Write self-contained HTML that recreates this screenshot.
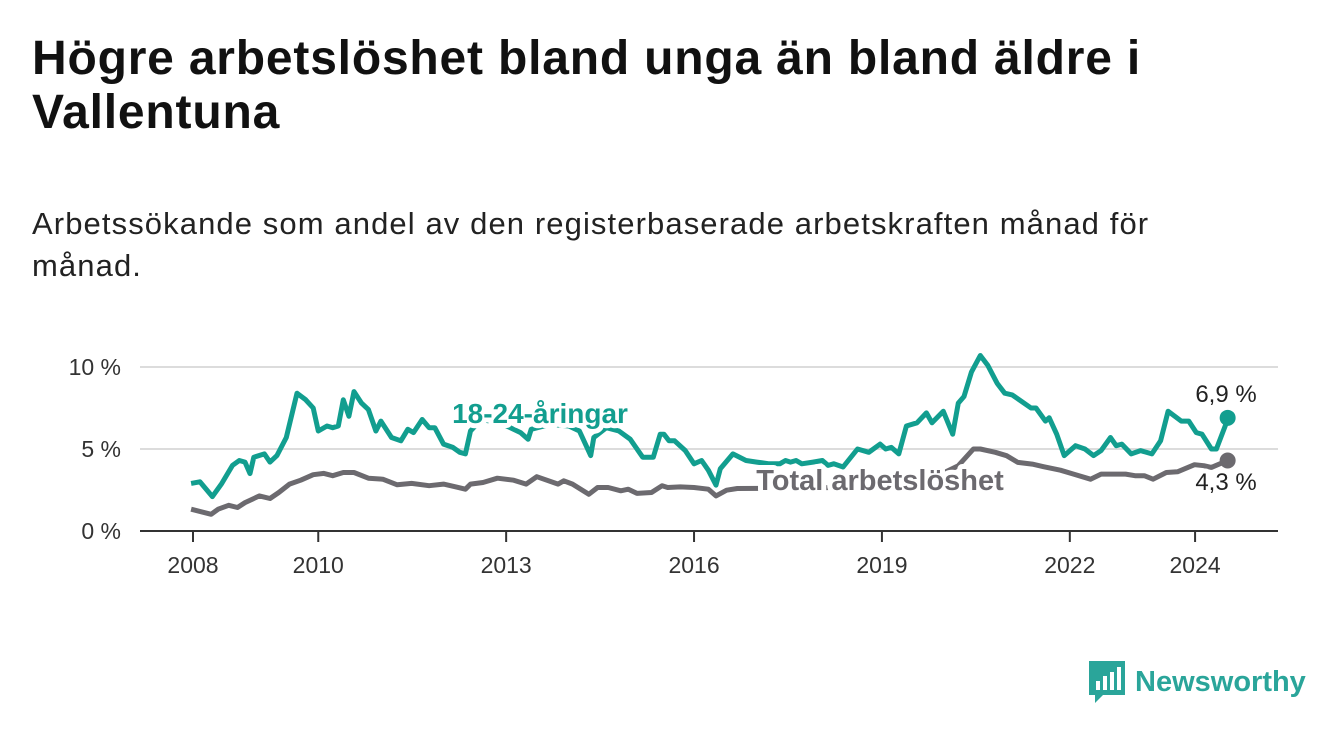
<!DOCTYPE html>
<html><head><meta charset="utf-8">
<style>
body{margin:0;background:#fff;width:1340px;height:734px;overflow:hidden;font-family:"Liberation Sans",sans-serif;}
#title{position:absolute;left:32px;top:32px;font-size:48px;font-weight:bold;line-height:54px;color:#111;width:1300px;margin:0;white-space:nowrap;letter-spacing:0.8px}
#sub{position:absolute;left:32px;top:203px;font-size:31px;line-height:42px;color:#222;width:1300px;white-space:nowrap;letter-spacing:1.1px}
svg{position:absolute;left:0;top:0}
</style></head><body>
<h1 id="title">Högre arbetslöshet bland unga än bland äldre i<br>Vallentuna</h1>
<div id="sub">Arbetssökande som andel av den registerbaserade arbetskraften månad för<br>månad.</div>
<svg id="chart" width="1340" height="734"></svg>
<script>
const youthYears=[2007.97,2008.11,2008.31,2008.46,2008.63,2008.74,2008.83,2008.91,2008.97,2009.14,2009.23,2009.34,2009.49,2009.66,2009.80,2009.92,2010.0,2010.14,2010.23,2010.32,2010.40,2010.49,2010.57,2010.69,2010.80,2010.92,2011.0,2011.17,2011.32,2011.43,2011.52,2011.66,2011.77,2011.86,2012.0,2012.15,2012.26,2012.35,2012.43,2012.6,2012.9,2013.23,2013.35,2013.4,2013.7,2014.0,2014.17,2014.35,2014.40,2014.6,2014.80,2014.98,2015.18,2015.35,2015.46,2015.52,2015.60,2015.69,2015.86,2016.0,2016.12,2016.23,2016.35,2016.42,2016.62,2016.83,2017.0,2017.2,2017.37,2017.46,2017.54,2017.63,2017.72,2017.9,2018.05,2018.14,2018.23,2018.38,2018.61,2018.79,2018.97,2019.06,2019.15,2019.27,2019.39,2019.56,2019.71,2019.80,2019.98,2020.13,2020.22,2020.31,2020.43,2020.57,2020.69,2020.84,2020.96,2021.08,2021.23,2021.38,2021.46,2021.61,2021.67,2021.79,2021.91,2022.09,2022.24,2022.38,2022.50,2022.65,2022.74,2022.83,2022.98,2023.13,2023.31,2023.45,2023.57,2023.78,2023.90,2024.02,2024.11,2024.26,2024.34,2024.49,2024.52];
const youthValues=[2.9,3.0,2.1,2.9,4.0,4.3,4.2,3.5,4.5,4.7,4.2,4.6,5.7,8.4,8.0,7.5,6.1,6.4,6.3,6.4,8.0,7.0,8.5,7.8,7.4,6.1,6.7,5.7,5.5,6.2,6.0,6.8,6.3,6.3,5.3,5.1,4.8,4.7,6.1,6.8,6.6,6.0,5.6,6.2,6.5,6.4,6.1,4.6,5.7,6.3,6.1,5.6,4.5,4.5,5.9,5.9,5.5,5.5,4.9,4.1,4.3,3.7,2.8,3.8,4.7,4.3,4.2,4.1,4.1,4.3,4.2,4.3,4.1,4.2,4.3,4.0,4.1,3.9,5.0,4.8,5.3,5.0,5.1,4.7,6.4,6.6,7.2,6.6,7.3,5.9,7.8,8.2,9.7,10.7,10.1,9.0,8.4,8.3,7.9,7.5,7.5,6.7,6.9,5.9,4.6,5.2,5.0,4.6,4.9,5.7,5.2,5.3,4.7,4.9,4.7,5.5,7.3,6.7,6.7,6.0,5.9,5.0,5.0,6.5,6.9];
const totalYears=[2007.97,2008.29,2008.40,2008.57,2008.71,2008.83,2009.06,2009.23,2009.37,2009.54,2009.72,2009.92,2010.09,2010.23,2010.40,2010.57,2010.80,2011.03,2011.26,2011.49,2011.77,2012.0,2012.20,2012.35,2012.43,2012.63,2012.86,2013.12,2013.32,2013.49,2013.83,2013.92,2014.06,2014.32,2014.46,2014.63,2014.83,2014.95,2015.09,2015.32,2015.49,2015.58,2015.78,2016.0,2016.23,2016.35,2016.52,2016.69,2017.2,2017.8,2018.5,2019.2,2019.8,2020.22,2020.46,2020.57,2020.81,2020.99,2021.17,2021.40,2021.58,2021.85,2022.06,2022.33,2022.50,2022.89,2023.04,2023.19,2023.33,2023.54,2023.72,2023.99,2024.14,2024.26,2024.52];
const totalValues=[1.33,1.02,1.33,1.57,1.43,1.73,2.14,1.98,2.35,2.86,3.10,3.43,3.51,3.37,3.57,3.57,3.22,3.16,2.82,2.90,2.76,2.86,2.69,2.55,2.86,2.96,3.22,3.10,2.86,3.31,2.86,3.06,2.86,2.24,2.65,2.65,2.45,2.55,2.29,2.35,2.76,2.65,2.69,2.65,2.55,2.14,2.49,2.59,2.6,2.6,2.7,2.9,3.2,3.98,5.0,5.0,4.8,4.59,4.18,4.08,3.92,3.71,3.47,3.16,3.47,3.47,3.37,3.37,3.16,3.57,3.61,4.04,3.98,3.88,4.3];
const yTicks=[0,5,10];
const yTickLabels=["0 %","5 %","10 %"];
const xTicks=[2008,2010,2013,2016,2019,2022,2024];

const NS="http://www.w3.org/2000/svg";
const svg=document.getElementById('chart');
const X=y=>193+(y-2008)*62.63;
const Y=v=>531-v*16.4;
const teal="#129e8f", gray="#6c6a6f";
function mk(t,a){const e=document.createElementNS(NS,t);for(const k in a)e.setAttribute(k,a[k]);svg.appendChild(e);return e;}
yTicks.forEach((t,i)=>{
  if(t>0){const g=mk('line',{x1:140,x2:1278,y1:Y(t),y2:Y(t),stroke:"#dcdcdc","stroke-width":2});
  
  }
  const l=mk('text',{x:121,y:Y(t)+8,"text-anchor":"end","font-size":23,fill:"#333"});l.textContent=yTickLabels[i];
  
  
});
const ax=mk('line',{x1:140,x2:1278,y1:531,y2:531,stroke:"#333","stroke-width":2});


xTicks.forEach(t=>{
  const tk=mk('line',{x1:X(t),x2:X(t),y1:531,y2:542,stroke:"#333","stroke-width":2});
  
  
  const l=mk('text',{x:X(t),y:573,"text-anchor":"middle","font-size":23,fill:"#333"});l.textContent=t;
  
  
});
function line(xs,vs,c,name){
  const d=xs.map((x,i)=>(i?'L':'M')+X(x).toFixed(1)+','+Y(vs[i]).toFixed(1)).join('');
  const p=mk('path',{d:d,fill:"none",stroke:c,"stroke-width":5,"stroke-linejoin":"round"});
  
  
  const n=xs.length-1;
  const dot=mk('circle',{cx:X(xs[n]),cy:Y(vs[n]),r:8,fill:c});
  
  
}
line(totalYears,totalValues,gray,'total-line');
line(youthYears,youthValues,teal,'youth-line');
function lab(x,y,txt,c,name,w,sz,anchor){
  const t=mk('text',{x:x,y:y,"text-anchor":anchor||"middle","font-size":sz||30,"font-weight":w||"bold",fill:c,stroke:"#fff","stroke-width":10,"paint-order":"stroke","stroke-linejoin":"round"});
  t.textContent=txt;
  
  
}
lab(540,423,"18-24-åringar",teal,'youth-series-label',"bold",28);
lab(880,490,"Total arbetslöshet",gray,'total-series-label',"bold",29);
lab(1226,402,"6,9 %","#222",'youth-end-value',"normal",24);
lab(1226,490,"4,3 %","#222",'total-end-value',"normal",24);
</script>
<div style="position:absolute;left:1089px;top:660px;height:44px;display:flex;align-items:center">
  <svg width="36" height="42" viewBox="0 0 36 42" style="position:static"><path d="M0 0H36V34H14L6 42V34H0Z" fill="#2aa59a"/><rect x="7" y="20" width="4" height="9" fill="#fff"/><rect x="14" y="15" width="4" height="14" fill="#fff"/><rect x="21" y="11" width="4" height="18" fill="#fff"/><rect x="28" y="6" width="4" height="23" fill="#fff"/></svg>
  <span style="font-size:29px;font-weight:bold;color:#2aa59a;margin-left:10px">Newsworthy</span>
</div>
</body></html>
